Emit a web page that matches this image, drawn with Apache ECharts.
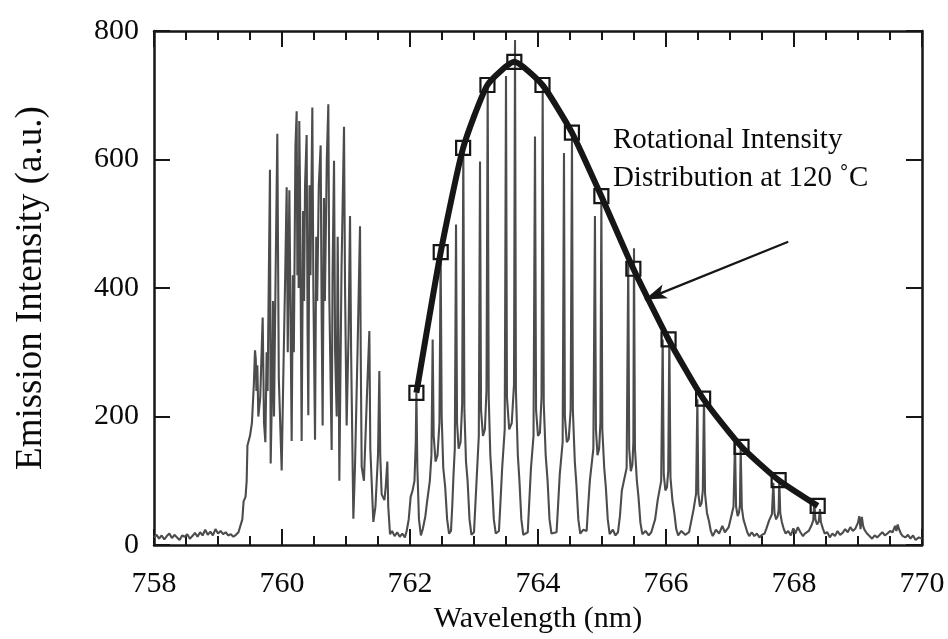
<!DOCTYPE html>
<html><head><meta charset="utf-8">
<script src="https://cdn.jsdelivr.net/npm/echarts@6/dist/echarts.min.js"></script>
<style>html,body{margin:0;padding:0;background:#fff}#c{width:948px;height:639px}</style>
</head><body><div id="c"></div>
<script>
// ---- data ----
const xRange = [758, 770];
const yRange = [0, 800];
const xLabelStep = 2;
const yLabelStep = 200;

// rotational intensity distribution (square markers)
const distWavelength = [762.10, 762.48, 762.83, 763.21, 763.63, 764.07, 764.53, 764.99, 765.49, 766.04, 766.58, 767.18, 767.76, 768.37];
const distIntensity  = [237, 456, 618, 716, 752, 716, 642, 543, 430, 320, 228, 153, 101, 61];

// emission spectrum [wavelength nm, intensity a.u.]
const spectrumBaseline = [
[758.00,12],[758.04,16],[758.08,10],[758.12,15],[758.16,9],[758.20,14],[758.24,18],[758.28,11],[758.32,16],[758.36,12],
[758.40,8],[758.44,15],[758.48,13],[758.52,17],[758.56,10],[758.60,14],[758.64,19],[758.68,13],[758.72,20],[758.76,15],
[758.80,24],[758.84,16],[758.88,21],[758.92,15],[758.96,25],[759.00,18],[759.04,22],[759.08,17],[759.12,20],[759.16,15],
[759.20,17],[759.24,13],[759.28,16],[759.32,20],[759.344,18]
];
const spectrumBand = [
[759.38,40],[759.40,68],[759.43,75],[759.448,100],[759.46,155],[759.50,170],[759.53,190],[759.56,250],[759.578,303],[759.59,290],
[759.60,240],[759.615,280],[759.63,200],[759.66,230],[759.698,354],[759.719,190],[759.74,160],[759.76,300],[759.775,240],[759.812,584],[759.823,127],
[759.84,220],[759.86,380],[759.875,200],[759.90,420],[759.927,640],[759.95,260],[759.995,116],[760.02,260],[760.05,420],[760.073,557],[760.09,300],[760.115,552],
[760.151,162],[760.17,420],[760.185,300],[760.21,620],[760.229,675],[760.24,420],[760.25,590],[760.26,400],[760.27,660],[760.281,560],[760.307,162],[760.33,520],[760.345,380],[760.36,560],
[760.385,638],[760.40,330],[760.411,202],[760.43,560],[760.445,420],[760.474,681],[760.49,400],[760.516,164],[760.535,480],[760.55,380],[760.575,560],[760.604,622],
[760.62,350],[760.635,186],[760.655,540],[760.67,380],[760.70,600],[760.724,686],[760.74,380],[760.776,148],[760.79,420],[760.813,598],[760.83,300],
[760.855,200],[760.87,480],[760.885,300],[760.896,100],[760.93,430],[760.969,651],[760.985,400],[761.010,186],[761.04,330],[761.063,512],[761.08,300],[761.115,41],
[761.14,120],[761.18,300],[761.219,496],[761.23,300],[761.245,122],[761.28,100],[761.33,240],[761.365,333],[761.38,150],[761.427,36],
[761.46,60],[761.50,140],[761.521,271],[761.535,140],[761.557,79],[761.60,70],[761.62,90],[761.646,130],[761.66,60],[761.688,17],
[761.72,22],[761.76,14],[761.80,20],[761.84,13],[761.88,18],[761.92,12],[761.948,22]
];
const spectrumLines = [
[761.98,40],[762.01,75],[762.04,85],[762.07,100],[762.09,160],[762.10,237],[762.115,120],[762.14,40],[762.17,15],[762.20,25],
[762.24,45],[762.27,70],[762.31,100],[762.335,140],[762.354,320],[762.37,170],[762.40,130],[762.43,140],[762.46,190],[762.479,455],
[762.495,200],[762.52,120],[762.55,90],[762.58,40],[762.61,18],
[762.64,22],[762.66,60],[762.68,110],[762.70,150],[762.719,499],[762.735,190],[762.76,150],[762.79,160],[762.815,220],[762.833,612],
[762.85,210],[762.875,130],[762.90,100],[762.93,40],[762.96,16],
[763.00,20],[763.02,60],[763.05,120],[763.075,170],[763.094,597],[763.11,210],[763.14,170],[763.17,180],[763.195,240],[763.214,713],
[763.23,230],[763.255,140],[763.28,100],[763.31,40],[763.34,18],
[763.39,22],[763.41,60],[763.44,120],[763.48,180],[763.50,730],[763.515,230],[763.55,180],[763.59,190],[763.625,250],[763.641,786],
[763.655,240],[763.685,140],[763.71,100],[763.74,40],[763.77,16],
[763.84,20],[763.86,60],[763.89,120],[763.93,170],[763.953,636],[763.97,210],[764.00,170],[764.03,175],[764.055,230],[764.073,708],
[764.09,220],[764.12,140],[764.15,100],[764.18,40],[764.21,18],
[764.29,20],[764.31,55],[764.34,110],[764.385,160],[764.406,610],[764.42,200],[764.45,160],[764.48,165],[764.51,210],[764.531,636],
[764.545,210],[764.575,130],[764.60,95],[764.63,40],[764.66,18],
[764.71,24],[764.76,22],[764.78,55],[764.81,100],[764.865,150],[764.89,512],[764.905,180],[764.93,140],[764.955,150],[764.975,190],
[764.99,537],[765.005,180],[765.035,120],[765.06,90],[765.09,40],[765.12,17],[765.17,24],[765.21,15],
[765.25,20],[765.28,45],[765.31,85],[765.385,120],[765.41,440],[765.425,150],[765.45,115],[765.475,125],[765.49,160],[765.50,462],
[765.515,150],[765.545,100],[765.57,75],[765.60,35],[765.63,17],[765.68,22],[765.73,15],[765.77,20],
[765.80,18],[765.83,40],[765.87,70],[765.925,100],[765.948,320],[765.965,110],[765.99,85],[766.015,90],[766.035,115],[766.052,325],
[766.07,105],[766.10,70],[766.13,50],[766.16,25],[766.19,15],[766.24,22],[766.30,16],
[766.36,20],[766.39,35],[766.43,55],[766.47,80],[766.49,227],[766.505,80],[766.53,60],[766.555,65],[766.575,85],[766.594,232],
[766.61,80],[766.64,50],[766.67,38],[766.70,22],[766.73,14],[766.78,24],[766.83,18],[766.88,30],[766.92,20],
[766.95,18],[766.98,28],[767.02,45],[767.055,60],[767.078,160],[767.095,60],[767.12,45],[767.14,50],[767.155,62],[767.167,152],
[767.185,58],[767.21,40],[767.24,30],[767.27,20],[767.30,14],[767.34,20],[767.38,14],[767.42,18],[767.46,12],[767.50,16],
[767.54,18],[767.57,26],[767.61,38],[767.655,48],[767.677,97],[767.695,50],[767.72,40],[767.745,45],[767.76,55],[767.77,102],
[767.785,50],[767.81,36],[767.84,25],[767.87,18],[767.91,22],[767.95,15],[767.99,26],[768.02,18],[768.06,28],[768.10,20],
[768.14,14],[768.17,18],
[768.20,15],[768.23,22],[768.27,30],[768.30,38],[768.317,66],[768.335,40],[768.36,32],[768.385,36],[768.406,56],[768.42,36],
[768.45,26],[768.48,18]
];
const spectrumTail = [
[768.52,20],[768.56,12],[768.60,18],[768.64,14],[768.68,22],[768.72,16],[768.76,19],[768.80,25],[768.84,20],[768.88,28],
[768.92,22],[768.96,26],[769.00,35],[769.02,45],[769.04,25],[769.06,44],[769.08,30],[769.10,24],[769.14,18],[769.18,14],
[769.22,10],[769.26,15],[769.30,12],[769.34,16],[769.38,20],[769.42,15],[769.46,18],[769.50,22],[769.54,20],[769.58,30],
[769.60,22],[769.62,32],[769.64,25],[769.67,18],[769.70,14],[769.74,12],[769.78,16],[769.82,10],[769.86,15],[769.90,8],
[769.95,12],[770.00,10]
];

// annotation
const annotLines = ['Rotational Intensity', 'Distribution at 120 \u02DAC'];
const annotAnchor = [765.17, 630, 571]; // x, y of line 1, y of line 2 (data units)
const arrowFrom = [767.91, 472];
const arrowTo = [765.67, 382];

// ---- chart ----
const spectrum = spectrumBaseline.concat(spectrumBand, spectrumLines, spectrumTail);
const dist = distWavelength.map((w, i) => [w, distIntensity[i]]);
const FONT = 'Liberation Serif';
const ink = '#161616';

const chart = echarts.init(document.getElementById('c'), null, {renderer: 'canvas'});
function xAx(pos, showLabel) {
  return {
    type: 'value', position: pos, min: xRange[0], max: xRange[1], interval: xLabelStep,
    axisLine: {show: true, onZero: false, lineStyle: {color: ink, width: 2.5}},
    axisTick: {show: true, inside: true, length: 16, lineStyle: {color: ink, width: 2}},
    minorTick: {show: true, splitNumber: 4, length: 9, lineStyle: {color: ink, width: 2}},
    splitLine: {show: false}, minorSplitLine: {show: false},
    axisLabel: {show: showLabel, fontFamily: FONT, fontSize: 30, color: '#0a0a0a', margin: 24},
    name: showLabel ? 'Wavelength (nm)' : '', nameLocation: 'middle', nameGap: 48,
    nameTextStyle: {fontFamily: FONT, fontSize: 30, color: '#0a0a0a'}
  };
}
function yAx(pos, showLabel) {
  return {
    type: 'value', position: pos, min: yRange[0], max: yRange[1], interval: yLabelStep,
    axisLine: {show: true, onZero: false, lineStyle: {color: ink, width: 2.5}},
    axisTick: {show: true, inside: true, length: 16, lineStyle: {color: ink, width: 2}},
    minorTick: {show: false}, splitLine: {show: false},
    axisLabel: {show: showLabel, fontFamily: FONT, fontSize: 30, color: '#0a0a0a', margin: 15,
                verticalAlign: 'middle', padding: [0, 0, 14, 0]},
    name: showLabel ? 'Emission Intensity (a.u.)' : '', nameLocation: 'middle', nameGap: 104,
    nameTextStyle: {fontFamily: FONT, fontSize: 37, color: '#0a0a0a'}
  };
}
const option = {
  animation: false,
  backgroundColor: '#fff',
  grid: {left: 154, right: 26, top: 31, bottom: 93, containLabel: false},
  xAxis: [xAx('bottom', true), xAx('top', false)],
  yAxis: [yAx('left', true), yAx('right', false)],
  series: [
    {type: 'line', data: spectrum, xAxisIndex: 0, yAxisIndex: 0, showSymbol: false, symbol: 'none',
     lineStyle: {color: '#4c4c4c', width: 2.1}, z: 2},
    {type: 'line', data: dist, xAxisIndex: 0, yAxisIndex: 0, smooth: 0.18,
     symbol: 'rect', symbolSize: 14, showSymbol: true,
     itemStyle: {color: 'rgba(0,0,0,0)', borderColor: ink, borderWidth: 2.2},
     lineStyle: {color: ink, width: 6}, z: 3,
     markLine: {silent: true, symbol: ['none', 'arrow'], symbolSize: [11, 22],
       lineStyle: {color: ink, width: 2.2, type: 'solid'}, label: {show: false},
       data: [[{coord: arrowFrom}, {coord: arrowTo}]]}
    }
  ]
};
chart.setOption(option);
const p1 = chart.convertToPixel({gridIndex: 0}, [annotAnchor[0], annotAnchor[1]]);
const p2 = chart.convertToPixel({gridIndex: 0}, [annotAnchor[0], annotAnchor[2]]);
chart.setOption({graphic: [
  {type: 'text', x: p1[0], y: p1[1], z: 10, style: {text: annotLines[0], fontFamily: FONT, fontSize: 29, fill: '#0a0a0a', align: 'left', verticalAlign: 'middle'}},
  {type: 'text', x: p2[0], y: p2[1], z: 10, style: {text: annotLines[1], fontFamily: FONT, fontSize: 29, fill: '#0a0a0a', align: 'left', verticalAlign: 'middle'}}
]});
</script>
</body></html>
